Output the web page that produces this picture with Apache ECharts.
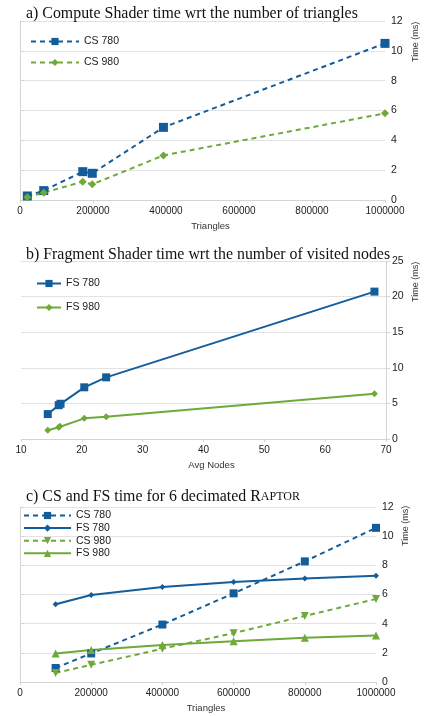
<!DOCTYPE html>
<html>
<head>
<meta charset="utf-8">
<script src="https://cdn.jsdelivr.net/npm/echarts@6/dist/echarts.min.js"></script>
<style>
html,body{margin:0;padding:0;background:#fff;}
#c{width:429px;height:716px;}
</style>
</head>
<body>
<div id="c"></div>
<script>
// ---- Data ----
const titleA = 'a) Compute Shader time wrt the number of triangles';
const titleB = 'b) Fragment Shader time wrt the number of visited nodes';
const titleC = 'c) CS and FS time for 6 decimated ';

const aTriangles = [20000, 65000, 172000, 198000, 393000, 1000000];
const aCS780 = [0.27, 0.63, 1.9, 1.79, 4.87, 10.5];
const aCS980 = [0.18, 0.49, 1.23, 1.05, 2.99, 5.81];

const bAvgNodes780 = [14.4, 16.2, 16.5, 20.4, 24.0, 68.1];
const bFS780 = [3.5, 4.75, 4.95, 7.26, 8.66, 20.7];
const bAvgNodes980 = [14.4, 16.2, 16.4, 20.4, 24.0, 68.1];
const bFS980 = [1.22, 1.65, 1.78, 2.9, 3.13, 6.37];

const cTriangles = [100000, 200000, 400000, 600000, 800000, 1000000];
const cCS780 = [0.96, 1.96, 3.94, 6.08, 8.27, 10.57];
const cFS780 = [5.33, 5.97, 6.51, 6.86, 7.09, 7.29];
const cCS980 = [0.62, 1.18, 2.28, 3.35, 4.53, 5.69];
const cFS980 = [1.96, 2.19, 2.53, 2.8, 3.03, 3.19];

const BLUE = '#135d9b';
const GREEN = '#6ea93a';
const SANS = 'Liberation Sans, Arial, sans-serif';
const SERIF = 'Liberation Serif, Times New Roman, serif';

const pairs = (xs, ys) => xs.map((x, i) => [x, ys[i]]);

function xAx(gi, min, max, interval, name) {
  return {
    type: 'value', gridIndex: gi, min, max, interval,
    name, nameLocation: 'middle', nameGap: 21,
    nameTextStyle: {fontFamily: SANS, fontSize: 9.5, color: '#333', padding: [0, 0, 0, 16]},
    axisLine: {show: true, lineStyle: {color: '#d4d4d4', width: 1}},
    axisTick: {show: true, length: 3, lineStyle: {color: '#d4d4d4'}},
    splitLine: {show: false},
    axisLabel: {fontFamily: SANS, fontSize: 10, color: '#222', margin: 6, formatter: v => String(v)}
  };
}
function yAx(gi, min, max, interval) {
  return {
    type: 'value', gridIndex: gi, min, max, interval, position: 'right',
    axisLine: {show: true, lineStyle: {color: '#d4d4d4', width: 1}},
    axisTick: {show: true, length: 4, lineStyle: {color: '#d4d4d4'}},
    splitLine: {show: true, lineStyle: {color: '#e2e2e2', width: 1}},
    axisLabel: {fontFamily: SANS, fontSize: 10.5, color: '#222', margin: 6, formatter: v => String(v)}
  };
}
function ser(name, gi, data, color, symbol, size, dashed, extra) {
  return Object.assign({
    name, type: 'line', xAxisIndex: gi, yAxisIndex: gi, data,
    symbol, symbolSize: size, showAllSymbol: true, animation: false,
    lineStyle: {color, width: 2, type: dashed ? [5, 4] : 'solid'},
    itemStyle: {color}
  }, extra || {});
}
function leg(names, left, top, w, gap) {
  return {
    data: names, left, top, orient: 'vertical', itemWidth: w, itemHeight: 9, itemGap: gap,
    textStyle: {fontFamily: SANS, fontSize: 10.5, color: '#222', padding: [0, 0, 0, 0]}
  };
}

const chart = echarts.init(document.getElementById('c'), null, {renderer: 'canvas'});
chart.setOption({
  animation: false,
  backgroundColor: '#fff',
  title: [
    {text: titleA, left: 21, top: 1, textStyle: {fontFamily: SERIF, fontSize: 15.9, fontWeight: 'normal', color: '#111'}},
    {text: titleB, left: 21, top: 242, textStyle: {fontFamily: SERIF, fontSize: 15.9, fontWeight: 'normal', color: '#111'}},
    {text: '{a|' + titleC + 'R}{b|APTOR}', left: 21, top: 484,
     textStyle: {fontFamily: SERIF, fontWeight: 'normal', color: '#111',
       rich: {a: {fontFamily: SERIF, fontSize: 15.9, fontWeight: 'normal', color: '#111'},
              b: {fontFamily: SERIF, fontSize: 12, fontWeight: 'normal', color: '#111'}}}}
  ],
  grid: [
    {left: 20, right: 44, top: 21, bottom: 516},
    {left: 21, right: 43, top: 261, bottom: 277},
    {left: 20, right: 53, top: 507, bottom: 34}
  ],
  xAxis: [
    xAx(0, 0, 1000000, 200000, 'Triangles'),
    xAx(1, 10, 70, 10, 'Avg Nodes'),
    xAx(2, 0, 1000000, 200000, 'Triangles')
  ],
  yAxis: [
    yAx(0, 0, 12, 2),
    yAx(1, 0, 25, 5),
    yAx(2, 0, 12, 2)
  ],
  legend: [
    leg(['CS 780', 'CS 980'], 25, 31, 48, 10),
    leg(['FS 780', 'FS 980'], 31, 273, 24, 13),
    leg(['CS 780 ', 'FS 780 ', 'CS 980 ', 'FS 980 '], 18, 505, 47, 1.6)
  ],
  graphic: [
    {type: 'text', x: 411, y: 62, rotation: Math.PI / 2, style: {text: 'Time (ms)', fontFamily: SANS, fontSize: 9, fill: '#333'}},
    {type: 'text', x: 411, y: 302, rotation: Math.PI / 2, style: {text: 'Time (ms)', fontFamily: SANS, fontSize: 9, fill: '#333'}},
    {type: 'text', x: 401, y: 546, rotation: Math.PI / 2, style: {text: 'Time (ms)', fontFamily: SANS, fontSize: 9, fill: '#333'}}
  ],
  series: [
    ser('CS 780', 0, pairs(aTriangles, aCS780), BLUE, 'rect', 9, true),
    ser('CS 980', 0, pairs(aTriangles, aCS980), GREEN, 'diamond', 8, true),
    ser('FS 780', 1, pairs(bAvgNodes780, bFS780), BLUE, 'rect', 8, false),
    ser('FS 980', 1, pairs(bAvgNodes980, bFS980), GREEN, 'diamond', 7, false),
    ser('CS 780 ', 2, pairs(cTriangles, cCS780), BLUE, 'rect', 8, true),
    ser('FS 780 ', 2, pairs(cTriangles, cFS780), BLUE, 'diamond', 6, false),
    ser('CS 980 ', 2, pairs(cTriangles, cCS980), GREEN, 'triangle', 8, true, {symbolRotate: 180}),
    ser('FS 980 ', 2, pairs(cTriangles, cFS980), GREEN, 'triangle', 8, false)
  ]
});
</script>
</body>
</html>
